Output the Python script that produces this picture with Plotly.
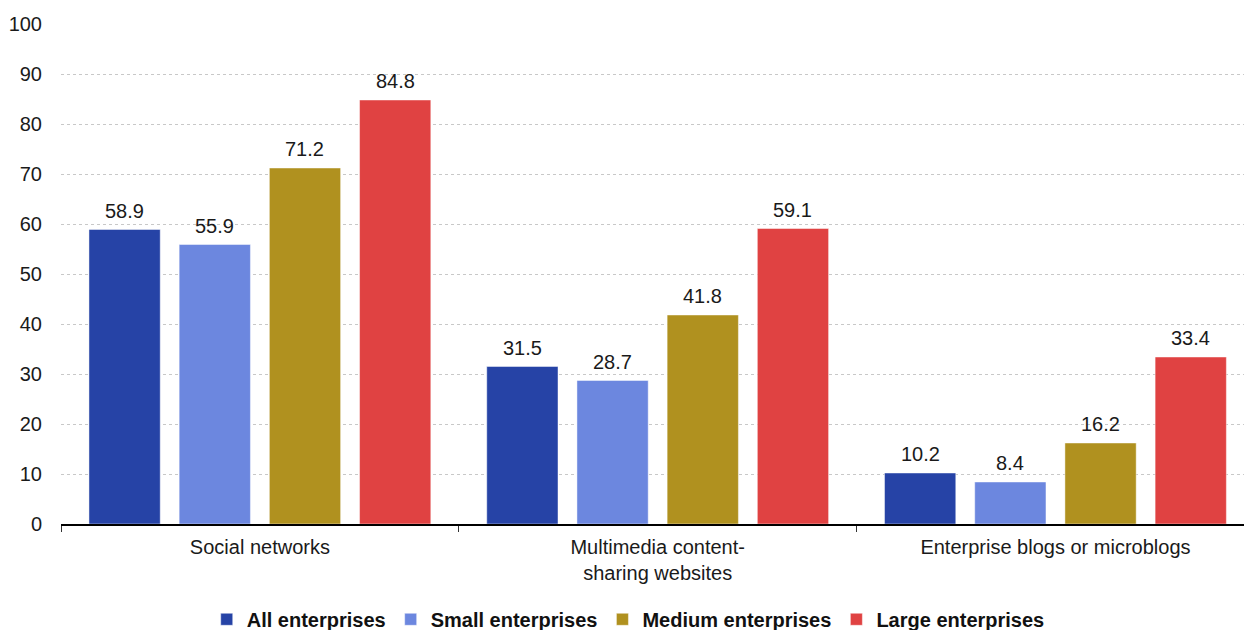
import plotly.graph_objects as go

categories = ["Social networks", "Multimedia content-<br>sharing websites", "Enterprise blogs or microblogs"]
series_names = ["All enterprises", "Small enterprises", "Medium enterprises", "Large enterprises"]
all_ent = [58.9, 31.5, 10.2]
small_ent = [55.9, 28.7, 8.4]
medium_ent = [71.2, 41.8, 16.2]
large_ent = [84.8, 59.1, 33.4]
colors = ["#2643A6", "#6C87DF", "#B0911F", "#E04242"]
y_ticks = list(range(0, 101, 10))

BAR_GAP = 0.093
GROUP_GAP = 0.21
FONT = "Liberation Sans, Arial, sans-serif"

series = [all_ent, small_ent, medium_ent, large_ent]
n_series = len(series)
slot = (1 - BAR_GAP) / n_series

fig = go.Figure()
annotations = []
for i, (name, vals, col) in enumerate(zip(series_names, series, colors)):
    fig.add_trace(go.Bar(
        name=name, x=categories, y=vals,
        marker=dict(color=col, line=dict(color="rgba(255,255,255,0.45)", width=1)),
    ))
    # value labels centred over each bar of the group
    for j, v in enumerate(vals):
        annotations.append(dict(
            x=j + (i - (n_series - 1) / 2) * slot, y=v, xref="x", yref="y",
            text=f"{v:.1f}", showarrow=False, yanchor="bottom", yshift=6,
            font=dict(family=FONT, size=20, color="#1a1a1a"),
        ))

fig.update_layout(
    width=1244, height=630,
    margin=dict(l=61, r=0, t=24, b=106),
    paper_bgcolor="white", plot_bgcolor="white",
    barmode="group", bargap=BAR_GAP, bargroupgap=GROUP_GAP,
    font=dict(family=FONT, size=20, color="#1a1a1a"),
    showlegend=True,
    legend=dict(
        orientation="h", xref="container", yref="container",
        x=0.505, xanchor="center", y=0.017, yanchor="middle",
        font=dict(family=FONT, size=20, color="#111", weight="bold"),
        traceorder="normal",
    ),
    annotations=annotations,
)
fig.update_xaxes(
    range=[-0.5, 2.474], showline=True, linecolor="black", linewidth=1.5,
    ticks="outside", tickson="boundaries", ticklen=6, tickcolor="#333",
    ticklabelstandoff=4,
    showgrid=False, tickfont=dict(size=20), fixedrange=True,
)
fig.update_yaxes(
    range=[0, 100], tickvals=y_ticks, showgrid=True, gridcolor="#c8c8c8",
    griddash="dot", gridwidth=1, zeroline=False, showline=False,
    ticks="", ticklabelstandoff=18, tickfont=dict(size=20),
)

fig.write_html("out.html")
